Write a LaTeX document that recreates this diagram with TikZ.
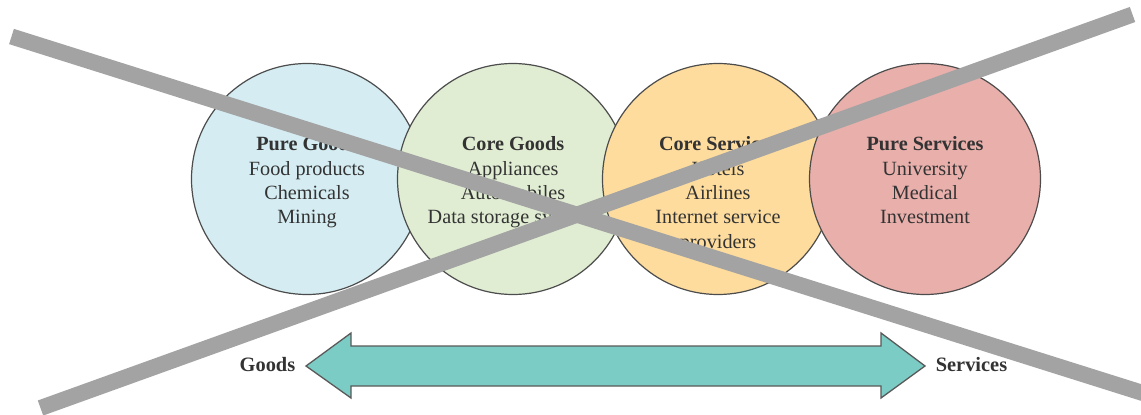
\documentclass[tikz,border=0pt]{standalone}
\usepackage{fontspec}
\setmainfont{Liberation Serif}
\definecolor{cA}{HTML}{D5EDF2}
\definecolor{cB}{HTML}{E0EDD3}
\definecolor{cC}{HTML}{FDDC9E}
\definecolor{cD}{HTML}{E8AFAB}
\definecolor{cArrow}{HTML}{7BCCC5}
\definecolor{cCross}{HTML}{A3A3A3}
\definecolor{cText}{HTML}{333333}
\tikzset{
  px/.style={x=1pt,y=-1pt},
  bubble/.style={circle,draw=black!70,line width=1.2pt,minimum size=231pt,inner sep=0pt},
  bubbletext/.style={align=center,font=\fontsize{20.2}{24.4}\selectfont,text=cText,inner sep=0pt,anchor=north},
  endlabel/.style={font=\fontsize{20.4}{24}\selectfont\bfseries,text=cText,inner sep=0pt},
  crossbar/.style={draw=cCross,line width=16pt}
}
\begin{document}
\begin{tikzpicture}[px]
\useasboundingbox (0,0) rectangle (1141,415);
\node[bubble,fill=cA] (c1) at (307,179) {};
\node[bubble,fill=cB] (c2) at (513,179) {};
\node[bubble,fill=cC] (c3) at (718,179) {};
\node[bubble,fill=cD] (c4) at (925,179) {};
\node[bubbletext] (t1) at (307,136.5) {\textbf{Pure Goods}\\Food products\\Chemicals\\Mining};
\node[bubbletext] (t2) at (513,136.5) {\textbf{Core Goods}\\Appliances\\Automobiles\\Data storage systems};
\node[bubbletext] (t3) at (718,136.5) {\textbf{Core Services}\\Hotels\\Airlines\\Internet service\\providers};
\node[bubbletext] (t4) at (925,136.5) {\textbf{Pure Services}\\University\\Medical\\Investment};
\draw[draw=black!65,line width=1.3pt,fill=cArrow,line join=miter]
  (306,366) -- (351,333) -- (351,346) -- (881,346) -- (881,333) -- (925,366)
  -- (881,398) -- (881,386) -- (351,386) -- (351,398) -- cycle;
\node[endlabel] (goods) at (267.5,365) {Goods};
\node[endlabel] (services) at (971.5,365) {Services};
\coordinate (a1) at (11.5,36.5);
\coordinate (a2) at (1145,393.7);
\coordinate (b1) at (40.5,408);
\coordinate (b2) at (1132.5,14.5);
\draw[crossbar] (a1) -- (a2);
\draw[crossbar] (b1) -- (b2);
\end{tikzpicture}
\end{document}
